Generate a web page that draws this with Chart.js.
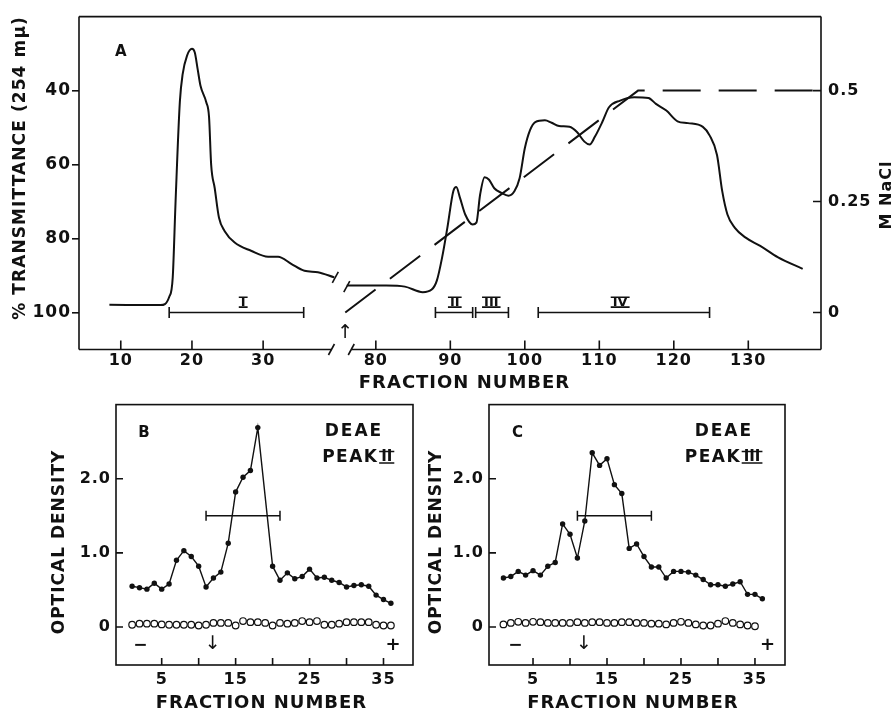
<!DOCTYPE html>
<html>
<head>
<meta charset="utf-8">
<script src="https://cdn.jsdelivr.net/npm/chart.js@4.4.0/dist/chart.umd.min.js"></script>
<style>
  html, body { margin: 0; padding: 0; background: #fff; }
  body { width: 894px; height: 713px; position: relative; overflow: hidden; }
  .box { position: absolute; }
  #boxA { left: 0; top: 0; width: 894px; height: 395px; }
  #boxB { left: 0; top: 390px; width: 420px; height: 323px; }
  #boxC { left: 420px; top: 390px; width: 474px; height: 323px; }
</style>
</head>
<body>
<div class="box" id="boxA"><canvas id="chartA"></canvas></div>
<div class="box" id="boxB"><canvas id="chartB"></canvas></div>
<div class="box" id="boxC"><canvas id="chartC"></canvas></div>
<script>
// --- Panel A: column elution (transmittance trace, split by the axis break) ---
const traceLeftFraction = [8.4, 15.6, 16.8, 17.3, 17.7, 18.3, 18.7, 19.3, 20.0, 20.4, 20.8, 21.2, 22.0, 22.4, 22.7, 23.2, 23.8, 24.6, 26.0, 28.3, 30.7, 32.1, 34.0, 35.8, 37.7, 40.0];
const traceLeftT = [97.9, 98.0, 95.8, 90.5, 69.9, 43.0, 35.5, 30.6, 28.7, 29.7, 34.2, 38.7, 43.1, 47.1, 60.1, 66.4, 74.4, 78.0, 81.1, 83.3, 84.9, 84.9, 86.9, 88.7, 89.1, 90.5];
const traceRightFraction = [76.1, 81.4, 83.9, 86.3, 87.5, 88.2, 88.9, 89.6, 90.4, 90.8, 91.3, 92.0, 93.0, 93.5, 94.0, 94.6, 95.2, 95.9, 96.9, 97.8, 98.6, 99.3, 100.0, 100.7, 101.4, 102.7, 103.6, 104.6, 106.0, 107.0, 108.0, 108.7, 109.4, 110.4, 111.3, 112.8, 114.7, 116.6, 117.6, 119.0, 120.5, 121.9, 123.9, 124.8, 125.8, 126.5, 127.2, 128.2, 129.6, 131.6, 134.0, 137.3];
const traceRightT = [92.7, 92.7, 93.0, 94.5, 93.8, 91.3, 85.1, 77.1, 67.2, 66.1, 69.0, 73.5, 76.2, 75.7, 68.1, 63.4, 64.1, 66.4, 67.7, 68.4, 67.2, 63.7, 55.6, 50.7, 48.5, 48.0, 48.7, 49.6, 49.8, 51.2, 53.8, 54.6, 52.5, 48.5, 44.5, 42.7, 41.8, 42.0, 43.6, 45.4, 48.3, 48.8, 49.8, 52.1, 57.4, 67.2, 73.5, 77.1, 79.7, 82.0, 85.1, 88.2];
const saltFraction = [75.9, 115.2, 139.8];
const saltMolar = [0, 0.5, 0.5];
const poolLabels = ['I', 'II', 'III', 'IV'];
const poolStart = [16.8, 88.0, 93.4, 101.8];
const poolEnd = [35.7, 93.0, 97.8, 124.8];
const poolLabelAt = [27.2, 90.6, 95.5, 112.8];
const ticksLeftFraction = [10, 20, 30];
const ticksRightFraction = [80, 90, 100, 110, 120, 130];
const ticksTransmittance = [40, 60, 80, 100];
const ticksNaCl = [0, 0.25, 0.5];
const ticksNaClLabels = ['0', '0.25', '0.5'];

// --- Panels B and C: rechromatography of DEAE peaks II and III ---
const fractionsB = [1, 2, 3, 4, 5, 6, 7, 8, 9, 10, 11, 12, 13, 14, 15, 16, 17, 18, 20, 21, 22, 23, 24, 25, 26, 27, 28, 29, 30, 31, 32, 33, 34, 35, 36];
const densityB = [0.55, 0.53, 0.51, 0.59, 0.51, 0.58, 0.90, 1.03, 0.95, 0.82, 0.54, 0.66, 0.74, 1.13, 1.82, 2.02, 2.11, 2.69, 0.82, 0.63, 0.73, 0.65, 0.68, 0.78, 0.66, 0.67, 0.63, 0.60, 0.54, 0.56, 0.57, 0.55, 0.43, 0.37, 0.32];
const openFractionsB = [1, 2, 3, 4, 5, 6, 7, 8, 9, 10, 11, 12, 13, 14, 15, 16, 17, 18, 19, 20, 21, 22, 23, 24, 25, 26, 27, 28, 29, 30, 31, 32, 33, 34, 35, 36];
const openDensityB = [0.03, 0.045, 0.045, 0.045, 0.035, 0.03, 0.03, 0.03, 0.03, 0.02, 0.03, 0.055, 0.055, 0.055, 0.02, 0.08, 0.065, 0.065, 0.055, 0.02, 0.055, 0.045, 0.055, 0.08, 0.065, 0.08, 0.03, 0.03, 0.045, 0.065, 0.065, 0.065, 0.065, 0.03, 0.02, 0.02];
const fractionsC = [1, 2, 3, 4, 5, 6, 7, 8, 9, 10, 11, 12, 13, 14, 15, 16, 17, 18, 19, 20, 21, 22, 23, 24, 25, 26, 27, 28, 29, 30, 31, 32, 33, 34, 35, 36];
const densityC = [0.66, 0.68, 0.75, 0.70, 0.76, 0.70, 0.82, 0.87, 1.39, 1.25, 0.93, 1.43, 2.35, 2.18, 2.27, 1.92, 1.80, 1.06, 1.12, 0.95, 0.81, 0.81, 0.66, 0.75, 0.75, 0.74, 0.70, 0.64, 0.57, 0.57, 0.55, 0.58, 0.61, 0.44, 0.44, 0.38];
const openFractionsC = [1, 2, 3, 4, 5, 6, 7, 8, 9, 10, 11, 12, 13, 14, 15, 16, 17, 18, 19, 20, 21, 22, 23, 24, 25, 26, 27, 28, 29, 30, 31, 32, 33, 34, 35];
const openDensityC = [0.035, 0.055, 0.07, 0.055, 0.07, 0.065, 0.055, 0.055, 0.055, 0.055, 0.065, 0.055, 0.065, 0.065, 0.055, 0.055, 0.065, 0.065, 0.055, 0.055, 0.045, 0.045, 0.035, 0.055, 0.07, 0.055, 0.035, 0.02, 0.02, 0.045, 0.08, 0.055, 0.035, 0.02, 0.01];
const pooledRange = [11, 21];
const pooledLevel = [1.5, 1.5];
const fractionTicks = [5, 10, 15, 20, 25, 30, 35];
const fractionTickLabels = ['5', '', '15', '', '25', '', '35'];
const odTicks = [0, 1, 2];
const odTickLabels = ['0', '1.0', '2.0'];

const INK = '#111';
const FAMILY = '"DejaVu Sans", sans-serif';
Chart.defaults.font.family = FAMILY;
Chart.defaults.font.weight = 'bold';
Chart.defaults.color = INK;
Chart.defaults.animation = false;

function pairs(xs, ys) {
    return xs.map((x, i) => ({ x: x, y: ys[i] }));
}

function drawText(ctx, text, x, y, font, align, spacing) {
    ctx.save();
    ctx.font = font;
    ctx.letterSpacing = (spacing || 0) + 'px';
    ctx.textAlign = align || 'center';
    ctx.textBaseline = 'middle';
    ctx.fillStyle = INK;
    ctx.fillText(text, x, y);
    ctx.restore();
}

function drawVertical(ctx, text, x, y, font, spacing) {
    ctx.save();
    ctx.translate(x, y);
    ctx.rotate(-Math.PI / 2);
    drawText(ctx, text, 0, 0, font, 'center', spacing);
    ctx.restore();
}

// roman numeral with a bar above and below, like the stencil lettering
function drawRoman(ctx, text, x, y, size, align) {
    ctx.save();
    ctx.font = 'bold ' + size + 'px ' + FAMILY;
    const w = ctx.measureText(text).width + 4;
    const left = align === 'left' ? x : x - w / 2;
    drawText(ctx, text, left + w / 2, y, ctx.font, 'center', 0);
    ctx.strokeStyle = INK;
    ctx.lineWidth = 1.6;
    ctx.beginPath();
    ctx.moveTo(left, y - size * 0.38);
    ctx.lineTo(left + w, y - size * 0.38);
    ctx.moveTo(left, y + size * 0.38);
    ctx.lineTo(left + w, y + size * 0.38);
    ctx.stroke();
    ctx.restore();
}

function inwardTicks(ctx, scale, values, len) {
    const a = scale.chart.chartArea;
    ctx.beginPath();
    values.forEach(v => {
        const p = scale.getPixelForValue(v);
        if (scale.isHorizontal()) {
            ctx.moveTo(p, a.bottom);
            ctx.lineTo(p, a.bottom - len);
        } else if (scale.position === 'left') {
            ctx.moveTo(a.left, p);
            ctx.lineTo(a.left + len, p);
        } else {
            ctx.moveTo(a.right, p);
            ctx.lineTo(a.right - len, p);
        }
    });
    ctx.stroke();
}

function slash(ctx, x, y) {
    ctx.beginPath();
    ctx.moveTo(x - 3, y + 5.5);
    ctx.lineTo(x + 3, y - 5.5);
    ctx.stroke();
}

// tick labels in the figure are spaced out a little
const spacing = {
    id: 'spacing',
    beforeDraw(chart) {
        chart.ctx.letterSpacing = '1px';
    }
};

const noLegend = { legend: { display: false }, tooltip: { enabled: false } };
const hiddenGrid = { display: false, drawTicks: false };

// --- Chart A ---
const decorA = {
    id: 'decorA',
    afterDraw(chart) {
        const { ctx, chartArea: a } = chart;
        const { xl, xr, y, y2 } = chart.scales;
        ctx.save();
        ctx.letterSpacing = '0px';
        ctx.strokeStyle = INK;
        ctx.lineWidth = 1.6;
        const gapL = xl.getPixelForValue(39.6);
        const gapR = xr.getPixelForValue(76.7);
        ctx.beginPath();
        ctx.moveTo(a.left, a.top);
        ctx.lineTo(a.right, a.top);
        ctx.moveTo(a.left, a.bottom);
        ctx.lineTo(gapL, a.bottom);
        ctx.moveTo(gapR, a.bottom);
        ctx.lineTo(a.right, a.bottom);
        ctx.moveTo(a.left, a.top);
        ctx.lineTo(a.left, a.bottom);
        ctx.moveTo(a.right, a.top);
        ctx.lineTo(a.right, a.bottom);
        ctx.stroke();
        slash(ctx, gapL, a.bottom);
        slash(ctx, gapR, a.bottom);
        const n = traceLeftFraction.length - 1;
        slash(ctx, xl.getPixelForValue(traceLeftFraction[n]) + 1, y.getPixelForValue(traceLeftT[n]));
        slash(ctx, xr.getPixelForValue(traceRightFraction[0]), y.getPixelForValue(traceRightT[0]) + 1);
        inwardTicks(ctx, xl, ticksLeftFraction, 9);
        inwardTicks(ctx, xr, ticksRightFraction, 9);
        inwardTicks(ctx, y2, ticksNaCl, 8);

        drawText(ctx, 'A', xl.getPixelForValue(10), y.getPixelForValue(29.5), 'bold 15px ' + FAMILY);
        poolLabels.forEach((lab, i) => {
            const sc = i === 0 ? xl : xr;
            drawRoman(ctx, lab, sc.getPixelForValue(poolLabelAt[i]), y.getPixelForValue(97.2), 13);
        });
        drawText(ctx, '\u2191', xr.getPixelForValue(75.9), y.getPixelForValue(105.6), '19px ' + FAMILY);
        drawText(ctx, 'FRACTION NUMBER', xr.getPixelForValue(91.9), a.bottom + 34, 'bold 18px ' + FAMILY, 'center', 1);
        drawVertical(ctx, '% TRANSMITTANCE (254 m\u03bc)', 21, 168, 'bold 17px ' + FAMILY, 1.1);
        drawVertical(ctx, 'M NaCl', 887, 195, 'bold 16px ' + FAMILY, 1);
        ctx.restore();
    }
};

const poolSets = poolLabels.map((lab, i) => ({
    data: pairs([poolStart[i], poolEnd[i]], [100, 100]),
    xAxisID: i === 0 ? 'xl' : 'xr',
    yAxisID: 'y',
    borderColor: INK,
    borderWidth: 1.6,
    pointStyle: 'line',
    pointRotation: 90,
    pointRadius: 5.5,
    pointBorderColor: INK,
    pointBorderWidth: 1.6
}));

new Chart(document.getElementById('chartA'), {
    type: 'line',
    data: {
        datasets: [{
            data: pairs(traceLeftFraction, traceLeftT),
            xAxisID: 'xl',
            yAxisID: 'y',
            borderColor: INK,
            borderWidth: 2,
            pointRadius: 0,
            cubicInterpolationMode: 'monotone'
        }, {
            data: pairs(traceRightFraction, traceRightT),
            xAxisID: 'xr',
            yAxisID: 'y',
            borderColor: INK,
            borderWidth: 2,
            pointRadius: 0,
            cubicInterpolationMode: 'monotone'
        }, {
            data: pairs(saltFraction, saltMolar),
            xAxisID: 'xr',
            yAxisID: 'y2',
            borderColor: INK,
            borderWidth: 2,
            borderDash: [38, 18],
            pointRadius: 0,
            tension: 0
        }].concat(poolSets)
    },
    options: {
        responsive: true,
        maintainAspectRatio: false,
        layout: { padding: { top: 13 } },
        plugins: noLegend,
        scales: {
            xl: {
                type: 'linear', position: 'bottom', stack: 'fraction', stackWeight: 261,
                min: 4.13, max: 40.8,
                grid: hiddenGrid, border: { display: false },
                ticks: { padding: 2, font: { size: 16 }, autoSkip: false, maxRotation: 0, minRotation: 0 },
                afterBuildTicks: s => { s.ticks = ticksLeftFraction.map(v => ({ value: v })); },
                afterFit: s => { s.height = 45.5; }
            },
            xr: {
                type: 'linear', position: 'bottom', stack: 'fraction', stackWeight: 481,
                min: 75.19, max: 139.76,
                grid: hiddenGrid, border: { display: false },
                ticks: { padding: 2, font: { size: 16 }, autoSkip: false, maxRotation: 0, minRotation: 0 },
                afterBuildTicks: s => { s.ticks = ticksRightFraction.map(v => ({ value: v })); },
                afterFit: s => { s.height = 45.5; }
            },
            y: {
                type: 'linear', position: 'left', reverse: true, min: 20, max: 110,
                grid: { drawOnChartArea: false, drawTicks: true, tickLength: 7, color: INK, lineWidth: 1.6 },
                border: { display: false },
                ticks: { padding: 1, font: { size: 17 } },
                afterBuildTicks: s => { s.ticks = ticksTransmittance.map(v => ({ value: v })); },
                afterFit: s => { s.width = 79; }
            },
            y2: {
                type: 'linear', position: 'right', min: -0.0833, max: 0.6667,
                grid: hiddenGrid, border: { display: false },
                ticks: { padding: 7, font: { size: 16 }, callback: v => ticksNaClLabels[ticksNaCl.indexOf(v)] },
                afterBuildTicks: s => { s.ticks = ticksNaCl.map(v => ({ value: v })); },
                afterFit: s => { s.width = 73; }
            }
        }
    },
    plugins: [spacing, decorA]
});

// --- Charts B and C ---
function densityDecor(o) {
    return {
        id: 'decor' + o.letter,
        afterDraw(chart) {
            const { ctx, chartArea: a } = chart;
            const { x, y } = chart.scales;
            ctx.save();
            ctx.letterSpacing = '0px';
            ctx.strokeStyle = INK;
            ctx.lineWidth = 1.6;
            ctx.strokeRect(a.left, a.top, a.right - a.left, a.bottom - a.top);
            inwardTicks(ctx, x, fractionTicks, 7);
            inwardTicks(ctx, y, odTicks, 7);
            drawText(ctx, o.letter, x.getPixelForValue(o.letterAt), y.getPixelForValue(2.61), 'bold 15px ' + FAMILY);
            drawText(ctx, 'DEAE', x.getPixelForValue(o.deaeAt), y.getPixelForValue(2.63), 'bold 17px ' + FAMILY, 'center', 2);
            drawText(ctx, 'PEAK', x.getPixelForValue(o.peakAt), y.getPixelForValue(2.29), 'bold 17px ' + FAMILY, 'left', 1.5);
            drawRoman(ctx, o.peak, x.getPixelForValue(o.peakAt) + 57, y.getPixelForValue(2.29), 15, 'left');
            drawText(ctx, '\u2193', x.getPixelForValue(11.9), y.getPixelForValue(-0.23), '19px ' + FAMILY);
            drawText(ctx, '\u2212', x.getPixelForValue(o.minusAt), y.getPixelForValue(-0.25), 'bold 17px ' + FAMILY);
            drawText(ctx, '+', x.getPixelForValue(o.plusAt), y.getPixelForValue(-0.25), 'bold 18px ' + FAMILY);
            drawText(ctx, 'FRACTION NUMBER', x.getPixelForValue(18.5), a.bottom + 38, 'bold 18px ' + FAMILY, 'center', 1);
            drawVertical(ctx, 'OPTICAL DENSITY', o.titleX, 152, 'bold 17px ' + FAMILY, 1);
            ctx.restore();
        }
    };
}

function densityChart(id, o) {
    return new Chart(document.getElementById(id), {
        type: 'line',
        data: {
            datasets: [{
                data: pairs(o.fx, o.fy),
                borderColor: INK,
                borderWidth: 1.4,
                pointRadius: 2.7,
                pointBackgroundColor: INK,
                pointBorderColor: INK,
                pointBorderWidth: 0,
                tension: 0
            }, {
                data: pairs(o.ox, o.oy),
                showLine: false,
                pointRadius: 3.3,
                pointBackgroundColor: '#fff',
                pointBorderColor: INK,
                pointBorderWidth: 1.2
            }, {
                data: pairs(pooledRange, pooledLevel),
                borderColor: INK,
                borderWidth: 1.5,
                pointStyle: 'line',
                pointRotation: 90,
                pointRadius: 5,
                pointBorderColor: INK,
                pointBorderWidth: 1.5
            }]
        },
        options: {
            responsive: true,
            maintainAspectRatio: false,
            layout: { padding: { top: 13, right: o.padRight } },
            plugins: noLegend,
            scales: {
                x: {
                    type: 'linear', min: o.xMin, max: o.xMax,
                    grid: hiddenGrid, border: { display: false },
                    ticks: {
                        padding: 5, font: { size: 16 }, autoSkip: false, maxRotation: 0, minRotation: 0,
                        callback: v => fractionTickLabels[fractionTicks.indexOf(v)]
                    },
                    afterBuildTicks: s => { s.ticks = fractionTicks.map(v => ({ value: v })); },
                    afterFit: s => { s.height = 48; }
                },
                y: {
                    type: 'linear', min: -0.513, max: 3.0,
                    grid: hiddenGrid, border: { display: false },
                    ticks: {
                        padding: 5, font: { size: 16 },
                        callback: v => odTickLabels[odTicks.indexOf(v)]
                    },
                    afterBuildTicks: s => { s.ticks = odTicks.map(v => ({ value: v })); },
                    afterFit: s => { s.width = o.yWidth; }
                }
            }
        },
        plugins: [spacing, densityDecor(o)]
    });
}

densityChart('chartB', {
    fx: fractionsB, fy: densityB, ox: openFractionsB, oy: openDensityB,
    xMin: -1.18, xMax: 38.99, yWidth: 116, padRight: 7,
    letter: 'B', letterAt: 2.6, deaeAt: 31.0, peakAt: 26.7, peak: 'II',
    minusAt: 2.1, plusAt: 36.3, titleX: 60
});

densityChart('chartC', {
    fx: fractionsC, fy: densityC, ox: openFractionsC, oy: openDensityC,
    xMin: -0.95, xMax: 39.06, yWidth: 69, padRight: 109,
    letter: 'C', letterAt: 2.9, deaeAt: 30.8, peakAt: 25.5, peak: 'III',
    minusAt: 2.6, plusAt: 36.7, titleX: 17
});
</script>
</body>
</html>
